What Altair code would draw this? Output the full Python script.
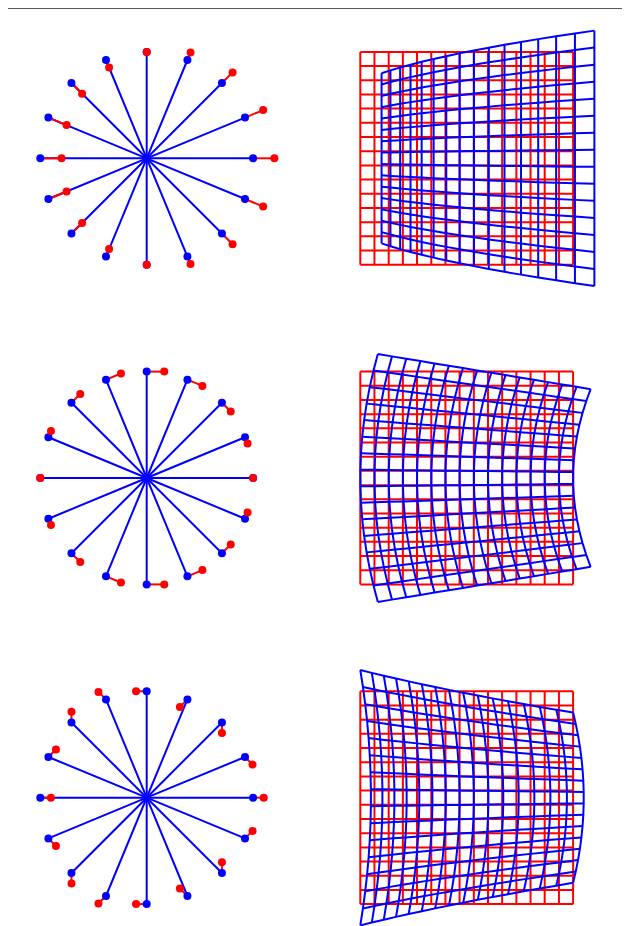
import math
import altair as alt
import pandas as pd

# ---------------- data ----------------
# 16 rays of the unit circle (degrees)
ANGLES_DEG = [0, 22.5, 45, 67.5, 90, 112.5, 135, 157.5,
              180, 202.5, 225, 247.5, 270, 292.5, 315, 337.5]
# 16 grid lines of the undistorted (red) grid, in normalised units
GRID_TICKS = [-1.0, -0.867, -0.733, -0.6, -0.467, -0.333, -0.2, -0.067,
              0.067, 0.2, 0.333, 0.467, 0.6, 0.733, 0.867, 1.0]
# quadratic distortion per row, coefficients of (x*x, x*y, y*y)
DX_COEFFS = [[0.2, 0.0, 0.0], [0.0, 0.0, 0.165], [0.1, 0.0, -0.1]]
DY_COEFFS = [[0.0, 0.2, 0.0], [0.0, -0.165, 0.0], [0.0, -0.2, 0.0]]

# ---------------- layout ----------------
UNIT_PX = 106.4
PLOT_W, PLOT_H = 614, 918
CENTER_PX = (146.7 - 8, 158.3 - 8)
COL_STEP_PX, ROW_STEP_PX = 320.0, 319.7
XMIN = -CENTER_PX[0] / UNIT_PX
XMAX = XMIN + PLOT_W / UNIT_PX
YMIN = -CENTER_PX[1] / UNIT_PX
YMAX = YMIN + PLOT_H / UNIT_PX
COL_OFF = [0.0, COL_STEP_PX / UNIT_PX]
ROW_OFF = [r * ROW_STEP_PX / UNIT_PX for r in range(3)]

BLUE, RED = "#0000ff", "#ff0000"


def distort(row, x, y):
    a, b = DX_COEFFS[row], DY_COEFFS[row]
    return (x + a[0] * x * x + a[1] * x * y + a[2] * y * y,
            y + b[0] * x * x + b[1] * x * y + b[2] * y * y)


rays, red_rules, blue_lines = [], [], []
for r in range(3):
    ox, oy = COL_OFF[0], ROW_OFF[r]
    for ang in ANGLES_DEG:
        bx, by = math.cos(math.radians(ang)), -math.sin(math.radians(ang))
        rx, ry = distort(r, bx, by)
        rays.append(dict(cx=ox, cy=oy, bx=ox + bx, by=oy + by,
                         rx=ox + rx, ry=oy + ry))
    gx0, gy0 = COL_OFF[1], ROW_OFF[r]
    for i, t in enumerate(GRID_TICKS):
        red_rules.append(dict(x=gx0 + t, y=gy0 - 1, x2=gx0 + t, y2=gy0 + 1))
        red_rules.append(dict(x=gx0 - 1, y=gy0 + t, x2=gx0 + 1, y2=gy0 + t))
        for k, s in enumerate(GRID_TICKS):
            vx, vy = distort(r, t, s)
            blue_lines.append(dict(lid=f"{r}-v{i}", k=k, x=gx0 + vx, y=gy0 + vy))
            hx, hy = distort(r, s, t)
            blue_lines.append(dict(lid=f"{r}-h{i}", k=k, x=gx0 + hx, y=gy0 + hy))

rays = pd.DataFrame(rays)
red_rules = pd.DataFrame(red_rules)
blue_lines = pd.DataFrame(blue_lines)

xs = alt.Scale(domain=[XMIN, XMAX], nice=False, zero=False)
ys = alt.Scale(domain=[YMIN, YMAX], nice=False, zero=False, reverse=True)


def X(f):
    return alt.X(f, type="quantitative", scale=xs, axis=None)


def Y(f):
    return alt.Y(f, type="quantitative", scale=ys, axis=None)


red_grid = alt.Chart(red_rules).mark_rule(color=RED, strokeWidth=2).encode(
    x=X("x"), y=Y("y"), x2="x2", y2="y2")

blue_grid = alt.Chart(blue_lines).mark_line(color=BLUE, strokeWidth=2).encode(
    x=X("x"), y=Y("y"), detail="lid:N", order="k:Q")

blue_rays = alt.Chart(rays).mark_rule(color=BLUE, strokeWidth=2).encode(
    x=X("cx"), y=Y("cy"), x2="bx", y2="by")

red_segs = alt.Chart(rays).mark_rule(color=RED, strokeWidth=2).encode(
    x=X("bx"), y=Y("by"), x2="rx", y2="ry")

blue_dots = alt.Chart(rays).mark_circle(color=BLUE, size=64, opacity=1).encode(
    x=X("bx"), y=Y("by"))

red_dots = alt.Chart(rays).mark_circle(color=RED, size=64, opacity=1).encode(
    x=X("rx"), y=Y("ry"))

top_line = alt.Chart(pd.DataFrame({"x": [XMIN], "x2": [XMAX], "y": [YMIN]})).mark_rule(
    color="#222222", strokeWidth=1.5).encode(x=X("x"), x2="x2", y=Y("y"))

chart = alt.layer(
    red_grid, blue_grid, blue_rays, red_segs, blue_dots, red_dots, top_line
).properties(
    width=PLOT_W, height=PLOT_H,
    autosize=alt.AutoSizeParams(type="none"),
    padding=0,
).configure_view(stroke=None)

chart.save("out.html", embed_options={"renderer": "svg", "actions": False})
